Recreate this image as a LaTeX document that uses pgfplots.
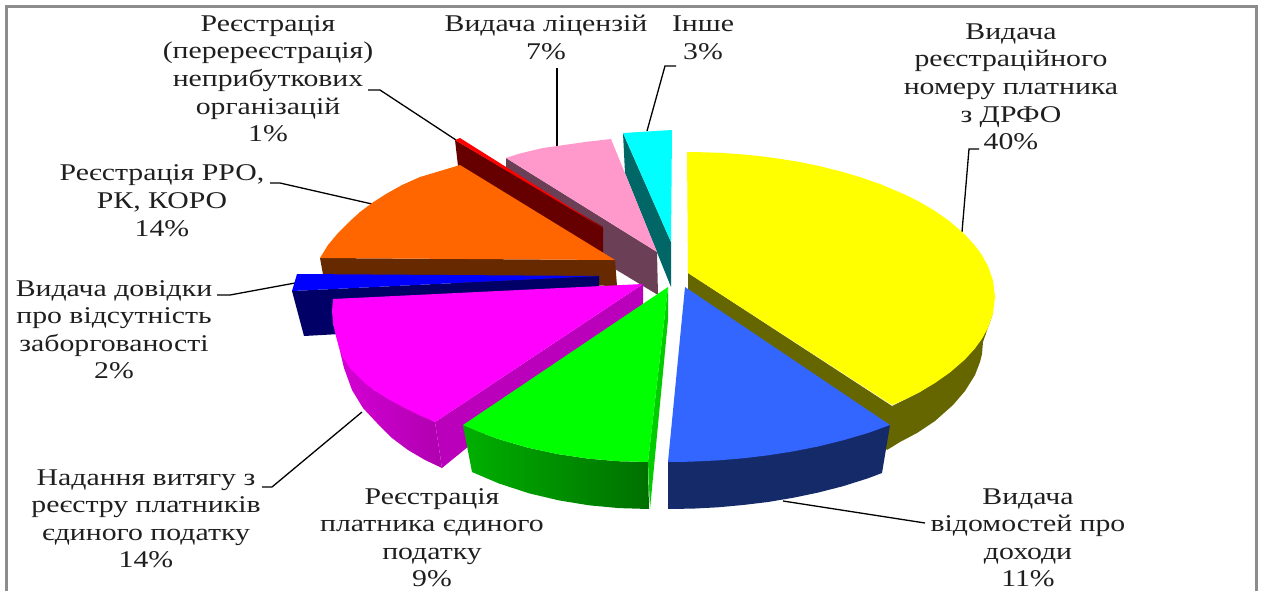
\documentclass[border=0pt]{standalone}
\usepackage{fontspec}
\setmainfont{Liberation Serif}
\usepackage{pgfplots}
\pgfplotsset{compat=1.18}
\definecolor{olive3}{HTML}{666600}
\definecolor{navy3}{HTML}{152B69}
\definecolor{blue3}{HTML}{3366FF}
\definecolor{frame3}{HTML}{8C8C8C}
\definecolor{pinkside}{HTML}{6B3F55}
\definecolor{brown3}{HTML}{662900}
\definecolor{ycol}{HTML}{FFFF00}
\definecolor{ccol}{HTML}{00FFFF}
\definecolor{mcol}{HTML}{FF00FF}
\definecolor{tealc}{HTML}{006666}
\definecolor{pcol}{HTML}{FF99CC}
\definecolor{ocol}{HTML}{FF6600}
\definecolor{mroon}{HTML}{660000}
\definecolor{navyb}{HTML}{000066}
\definecolor{rcol}{HTML}{FF0000}
\definecolor{bcol}{HTML}{0000FF}
\definecolor{gcol}{HTML}{00FF00}
\definecolor{gside}{HTML}{00CC00}
\definecolor{mside}{HTML}{BB00BB}
\definecolor{ml}{HTML}{D700D7}
\definecolor{mr}{HTML}{AF00AF}
\definecolor{gl}{HTML}{00B000}
\definecolor{gr}{HTML}{007000}
\newcommand\lb[1]{\scalebox{1.24}[1]{\begin{tabular}{@{}c@{}}#1\end{tabular}}}
\tikzset{lab/.style={font=\fontsize{24}{27.6}\selectfont,text=black!88,inner sep=0pt,anchor=center},
lead/.style={black,line width=1.3pt,no markers}}
\begin{document}
\begin{tikzpicture}
\begin{axis}[scale only axis,width=1264pt,height=591pt,xmin=0,xmax=1264,ymin=0,ymax=591,y dir=reverse,hide axis,clip=false,no markers]
% page corners
\addplot[draw=none] coordinates {(0,0)(1264,591)};
% frame
\addplot[frame3,line width=3pt] coordinates {(6,591)(6,6)(1256,6)(1256,591)};
% leader lines
\addplot[lead] coordinates {(962,232)(969,149)(979,149)};
\addplot[lead] coordinates {(783,501)(925,523)};
\addplot[lead] coordinates {(362,412)(272,487)(262,487)};
\addplot[lead] coordinates {(295,283)(230,295)(217,295)};
\addplot[lead] coordinates {(372,204)(280,183)(270,183)};
\addplot[lead] coordinates {(456,140)(380,90)(368,90)};
\addplot[lead] coordinates {(557,146)(557,68)};
\addplot[lead] coordinates {(647,131)(665,66)(676,66)};
% cyan 3%
\addplot[draw=none,fill=tealc] coordinates {(623,133)(625,173)(671,287)(671,242)};
\addplot[draw=none,fill=ccol] coordinates {(623,133)(672,130)(671,242)};
% pink 7%
\addplot[draw=none,fill=pinkside] coordinates {(506,158)(657,252)(658,295)(600,260)(506,170)};
\addplot[draw=none,fill=pcol] coordinates {(506,158)(518,154)(530,151)(543,148)(557,146)(571,144)(585,142)(611,139)(657,252)};
% dark red 1%
\addplot[draw=none,fill=mroon] coordinates {(455,140)(458,166)(603,253)(603,227)};
\addplot[draw=none,fill=rcol] coordinates {(455,140)(460,138)(603,228)};
% orange 14%
\addplot[draw=none,fill=brown3] coordinates {(320,258)(324,280)(617,286)(615,260)};
\addplot[draw=none,fill=ocol] coordinates {(615,260)(320,258)(328,245)(338,233)(349,222)(360,212)(372,203)(386,194)(402,185)(420,177)(440,171)(460,165)};
% blue 2%
\addplot[draw=none,fill=navyb] coordinates {(292,291)(304,336)(340,334)(599,287)(599,276)};
\addplot[draw=none,fill=bcol] coordinates {(297,274)(292,291)(600,276)};
% magenta 14%
\addplot[draw=none,left color=ml,right color=mr] coordinates {(333,323)(339,347)(344,368)(352,390)(363,408)(377,423)(392,438)(408,450)(425,460)(442,468)(435,422)(374,390)(343,357)};
\addplot[draw=none,fill=mside] coordinates {(643,284)(643,304)(442,468)(435,422)};
\addplot[draw=none,fill=mcol] coordinates {(643,284)(333,299)(332,311)(333,323)(336,336)(339,347)(343,357)(350,368)(358,376)(366,384)(374,390)(388,399)(403,407)(419,415)(435,422)};
% yellow 40%
\addplot[draw=none,fill=olive3] coordinates {(688,273)(892,406)(920,392)(950,372)(975,348)(993,313)(983,342)(982,354)(980,362)(975,375)(965,391)(953,405)(935,421)(917,433)(900,442)(887,450)(880,440)(688,295)};
\addplot[draw=none,fill=ycol] coordinates {(687,152)(700,152.2)(720,152.8)(740,154.2)(760,156.1)(780,158.8)(800,162.1)(820,166.2)(840,171.2)(860,177.1)(880,184)(905,194.6)(920,202.1)(935,211)(950,221.6)(965,234.6)(975,245.6)(982,255.3)(988,266.2)(993,280.5)(995,297)(993,313.5)(988,327.8)(982,338.7)(975,348.4)(965,359.4)(950,372.4)(935,383)(920,391.9)(905,399.4)(892,405)(688,273)};
% blue 11%
\addplot[draw=none,fill=navy3] coordinates {(668,462)(668,509)(693,508.6)(718,507.3)(743,505)(768,502)(793,497.8)(818,492.6)(843,486.2)(868,478.3)(882,473)(890,425)};
\addplot[draw=none,fill=blue3] coordinates {(685,287)(668,462)(690,461.7)(718,460.4)(743,458.3)(768,455.3)(793,451.4)(818,446.5)(843,440.3)(868,433)(890,425)};
% green 9%
\addplot[draw=none,left color=gl,right color=gr] coordinates {(463,425)(472,472)(499,483.5)(529,493.3)(559,500.4)(589,505.3)(619,508.1)(649,509)(648,462)(618,461.2)(588,458.6)(558,454.1)(528,447.7)(498,438.9)(478,431.5)};
\addplot[draw=none,fill=gside] coordinates {(668,287)(668,320)(650,509)(648,462)};
\addplot[draw=none,fill=gcol] coordinates {(668,287)(463,425)(478,431.5)(498,438.9)(528,447.7)(558,454.1)(588,458.6)(618,461.2)(648,462)};
% labels
\node[lab] at (axis cs:268,81) {\lb{Реєстрація\\(перереєстрація)\\неприбуткових\\організацій\\1\%}};
\node[lab] at (axis cs:546,40) {\lb{Видача ліцензій\\7\%}};
\node[lab] at (axis cs:703,40) {\lb{Інше\\3\%}};
\node[lab] at (axis cs:1011,89) {\lb{Видача\\реєстраційного\\номеру платника\\з ДРФО\\40\%}};
\node[lab] at (axis cs:162,203) {\lb{Реєстрація РРО,\\РК, КОРО\\14\%}};
\node[lab] at (axis cs:114,332) {\lb{Видача довідки\\про відсутність\\заборгованості\\2\%}};
\node[lab] at (axis cs:146,521) {\lb{Надання витягу з\\реєстру платників\\єдиного податку\\14\%}};
\node[lab] at (axis cs:432,540) {\lb{Реєстрація\\платника єдиного\\податку\\9\%}};
\node[lab] at (axis cs:1028,540) {\lb{Видача\\відомостей про\\доходи\\11\%}};
\end{axis}
\end{tikzpicture}
\end{document}
